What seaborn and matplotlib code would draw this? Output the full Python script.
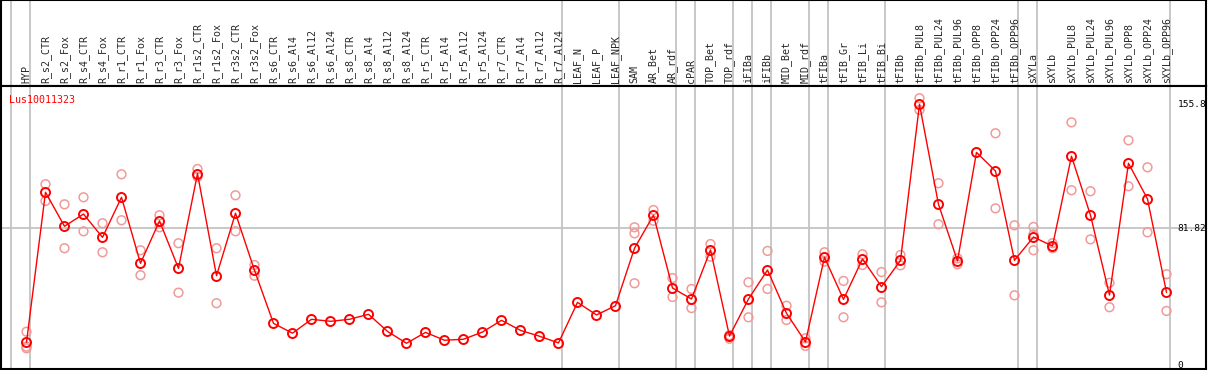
import pandas as pd
import matplotlib
matplotlib.use("Agg")
import matplotlib.pyplot as plt
import seaborn as sns

# Data
gene = "Lus10011323"

samples = ["HYP", "R_s2_CTR", "R_s2_Fox", "R_s4_CTR", "R_s4_Fox", "R_r1_CTR", "R_r1_Fox",
           "R_r3_CTR", "R_r3_Fox", "R_r1s2_CTR", "R_r1s2_Fox", "R_r3s2_CTR", "R_r3s2_Fox",
           "R_s6_CTR", "R_s6_Al4", "R_s6_Al12", "R_s6_Al24", "R_s8_CTR", "R_s8_Al4",
           "R_s8_Al12", "R_s8_Al24", "R_r5_CTR", "R_r5_Al4", "R_r5_Al12", "R_r5_Al24",
           "R_r7_CTR", "R_r7_Al4", "R_r7_Al12", "R_r7_Al24", "LEAF_N", "LEAF_P", "LEAF_NPK",
           "SAM", "AR_Bet", "AR_rdf", "cPAR", "TOP_Bet", "TOP_rdf", "iFIBa", "iFIBb",
           "MID_Bet", "MID_rdf", "tFIBa", "tFIB_Gr", "tFIB_Li", "tFIB_Bi", "tFIBb",
           "tFIBb_PUL8", "tFIBb_PUL24", "tFIBb_PUL96", "tFIBb_OPP8", "tFIBb_OPP24",
           "tFIBb_OPP96", "sXYLa", "sXYLb", "sXYLb_PUL8", "sXYLb_PUL24", "sXYLb_PUL96",
           "sXYLb_OPP8", "sXYLb_OPP24", "sXYLb_OPP96"]

means = [13.8, 103.3, 83.0, 90.3, 76.4, 100.3, 60.9, 86.2, 57.9, 114.4, 53.5, 90.8, 56.7,
         25.1, 19.2, 27.5, 26.3, 27.5, 30.5, 20.3, 13.2, 19.7, 15.0, 15.6, 19.9,
         26.9, 20.9, 17.4, 13.4, 37.6, 30.1, 35.6,
         69.9, 89.6, 46.2, 39.6, 68.9, 17.5, 39.6, 56.9, 31.1, 14.0, 64.5, 39.4, 63.5, 47.0,
         62.6, 155.8, 96.1, 62.3, 127.1, 116.0, 62.7,
         76.6, 71.2, 124.8, 89.6, 42.0, 120.6, 99.3, 43.6]

replicates = [[20.1, 11.2, 10.2], [108.1, 98.1], [96.1, 69.9], [100.3, 80.0], [84.8, 67.5],
              [114.0, 86.6], [68.7, 53.8], [89.6, 82.4], [72.9, 43.4], [117.2, 112.6],
              [69.9, 37.1], [101.5, 80.0], [59.9, 53.5],
              [], [], [], [], [], [], [], [], [], [], [], [], [], [], [], [], [], [], [],
              [82.4, 78.8, 49.0], [92.7, 86.3], [52.1, 40.8], [45.6, 34.2], [72.4, 64.9],
              [18.0, 15.9], [49.6, 28.7], [68.3, 45.6], [35.6, 27.1], [16.2, 11.6],
              [67.5, 61.9], [50.4, 28.7], [66.3, 59.9], [55.7, 37.6], [65.9, 59.7],
              [159.4, 152.4], [108.7, 84.2], [63.9, 60.3], [], [138.5, 93.7], [83.6, 41.8],
              [82.6, 78.2, 68.7], [72.9, 69.9], [145.0, 104.5], [103.9, 75.2], [49.3, 34.7],
              [134.3, 106.9], [118.2, 79.4], [54.4, 32.5]]

# last sample index of each group (vertical separators)
group_ends = [-1, 0, 28, 31, 34, 35, 37, 38, 39, 41, 42, 45, 52, 53, 60]

ref_value = 81.82
y_marks = [155.8, 81.82, 0]
y_mark_labels = ["155.8", "81.82", "0"]

pos = list(range(len(samples)))
rep_df = pd.DataFrame([(i, v) for i, reps in enumerate(replicates) for v in reps],
                      columns=["pos", "value"])

sns.set_style("white")
plt.rcParams["font.family"] = ["DejaVu Sans Mono", "DejaVu Sans"]

W, H = 1209, 370
fig = plt.figure(figsize=(W / 100, H / 100), dpi=100)
ax_lab = fig.add_axes([1 / W, 284 / H, 1205 / W, 86 / H])
ax = fig.add_axes([1 / W, 1 / H, 1205 / W, 283 / H], sharex=ax_lab)

red = "#ff0000"
pink = "#f09a9a"
grey = "#c4c4c4"

for a in (ax, ax_lab):
    for b in group_ends:
        a.axvline(b + 0.21, color=grey, lw=1.3, zorder=0)
    for s in a.spines.values():
        s.set_color("black")
        s.set_linewidth(1.5)
    a.set_xticks([])
    a.set_yticks([])
    a.set_xlabel("")
    a.set_ylabel("")

ax.axhline(ref_value, color=grey, lw=1.3, zorder=0)

sns.scatterplot(data=rep_df, x="pos", y="value", ax=ax, marker="o", s=40,
                facecolors="none", edgecolor=pink, linewidth=1.1, zorder=2, legend=False)
sns.lineplot(x=pos, y=means, ax=ax, color=red, lw=1.0, sort=False, marker="o",
             markersize=6.5, markerfacecolor="none", markeredgecolor=red,
             markeredgewidth=1.4, zorder=3)

ax.set_xlim(-1.342, 62.08)
ax.set_ylim(-2.15, 166.7)
ax.set_xlabel("")
ax.set_ylabel("")

for v, t in zip(y_marks, y_mark_labels):
    ax.text(60.58, v, t, fontsize=6.8, ha="left", va="center", color="black")

ax.text(-0.92, 158.6, gene, fontsize=7.2, color=red, ha="left", va="center")

ax_lab.set_ylim(0, 1)
for i, name in enumerate(samples):
    ax_lab.text(i, 0.035, name, rotation=90, fontsize=7.2, ha="center", va="bottom")

fig.savefig("out.png", dpi=100)
